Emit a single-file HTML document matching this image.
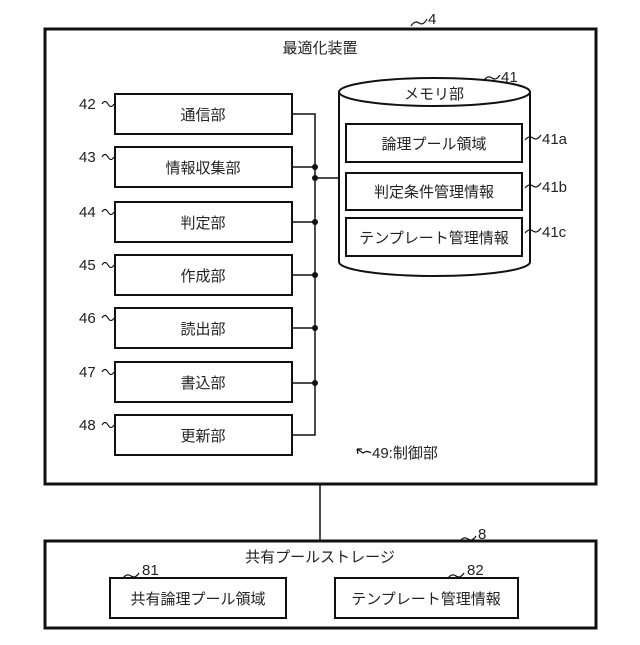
<!DOCTYPE html>
<html><head><meta charset="utf-8"><style>
body{margin:0;background:#fff}
svg text{font-family:"Liberation Sans","Noto Sans CJK JP",sans-serif;fill:#222}
</style></head><body>
<svg width="640" height="640" viewBox="0 0 640 640" xmlns="http://www.w3.org/2000/svg">
<g fill="none" stroke="#111">
<rect x="45" y="29" width="551" height="455" stroke-width="3"/>
<rect x="45" y="541" width="551" height="87" stroke-width="3"/>
<line x1="320" y1="484" x2="320" y2="541" stroke-width="1.5"/>
<g stroke-width="2">
<rect x="115" y="94" width="177" height="40"/>
<rect x="115" y="147" width="177" height="40"/>
<rect x="115" y="202" width="177" height="40"/>
<rect x="115" y="255" width="177" height="40"/>
<rect x="115" y="308" width="177" height="40"/>
<rect x="115" y="362" width="177" height="40"/>
<rect x="115" y="415" width="177" height="40"/>
<rect x="346" y="124" width="176" height="38"/>
<rect x="346" y="173" width="176" height="37"/>
<rect x="346" y="218" width="176" height="38"/>
<rect x="110" y="578" width="176" height="40"/>
<rect x="335" y="578" width="183" height="40"/>
<path d="M339 92 L339 262 A95.5 14 0 0 0 530 262 L530 92"/>
<ellipse cx="434.5" cy="92" rx="95.5" ry="14"/>
</g>
<g stroke-width="1.5">
<path d="M292 114 H315 V435 H292"/>
<path d="M292 167 H315 M292 222 H315 M292 275 H315 M292 328 H315 M292 383 H315 M315 178 H339"/>
</g>
<g stroke-width="1.2">
<path d="M102 104 q3 -5 6 0 t6 0"/>
<path d="M102 157 q3 -5 6 0 t6 0"/>
<path d="M102 212 q3 -5 6 0 t6 0"/>
<path d="M102 265 q3 -5 6 0 t6 0"/>
<path d="M102 318 q3 -5 6 0 t6 0"/>
<path d="M102 372 q3 -5 6 0 t6 0"/>
<path d="M102 425 q3 -5 6 0 t6 0"/>
<path d="M411 26 q4 -6 8 -3 t8 -4"/>
<path d="M484 80 q4 -5 8 -2 t8 -3"/>
<path d="M525 140 q4 -5 8 -2 t8 -3"/>
<path d="M525 188 q4 -5 8 -2 t8 -3"/>
<path d="M525 233 q4 -5 8 -2 t8 -3"/>
<path d="M460 541 q4 -5 8 -2 t8 -3"/>
<path d="M123 578 q4 -5 8 -2 t8 -3"/>
<path d="M448 578 q4 -5 8 -2 t8 -3"/>
<path d="M357 449 l6 4 q4 -3 8 0 M357 449 l1 5 M357 449 l5 0"/>
</g>
</g>
<g fill="#111">
<circle cx="315" cy="167" r="3"/><circle cx="315" cy="178" r="3"/><circle cx="315" cy="222" r="3"/>
<circle cx="315" cy="275" r="3"/><circle cx="315" cy="328" r="3"/><circle cx="315" cy="383" r="3"/>
</g>
<g font-size="15" text-anchor="middle">
<text x="320" y="53">最適化装置</text>
<text x="203" y="120">通信部</text>
<text x="203" y="173">情報収集部</text>
<text x="203" y="228">判定部</text>
<text x="203" y="281">作成部</text>
<text x="203" y="334">読出部</text>
<text x="203" y="388">書込部</text>
<text x="203" y="441">更新部</text>
<text x="434" y="99">メモリ部</text>
<text x="434" y="149">論理プール領域</text>
<text x="434" y="197">判定条件管理情報</text>
<text x="434" y="243">テンプレート管理情報</text>
<text x="320" y="562">共有プールストレージ</text>
<text x="198" y="604">共有論理プール領域</text>
<text x="426" y="604">テンプレート管理情報</text>
</g>
<g font-size="15">
<text x="79" y="109">42</text><text x="79" y="162">43</text><text x="79" y="217">44</text>
<text x="79" y="270">45</text><text x="79" y="323">46</text><text x="79" y="377">47</text>
<text x="79" y="430">48</text>
<text x="428" y="24">4</text>
<text x="501" y="82">41</text>
<text x="542" y="144">41a</text><text x="542" y="192">41b</text><text x="542" y="237">41c</text>
<text x="478" y="539">8</text>
<text x="142" y="575">81</text><text x="467" y="575">82</text>
<text x="372" y="458">49:制御部</text>
</g>
</svg>
</body></html>
